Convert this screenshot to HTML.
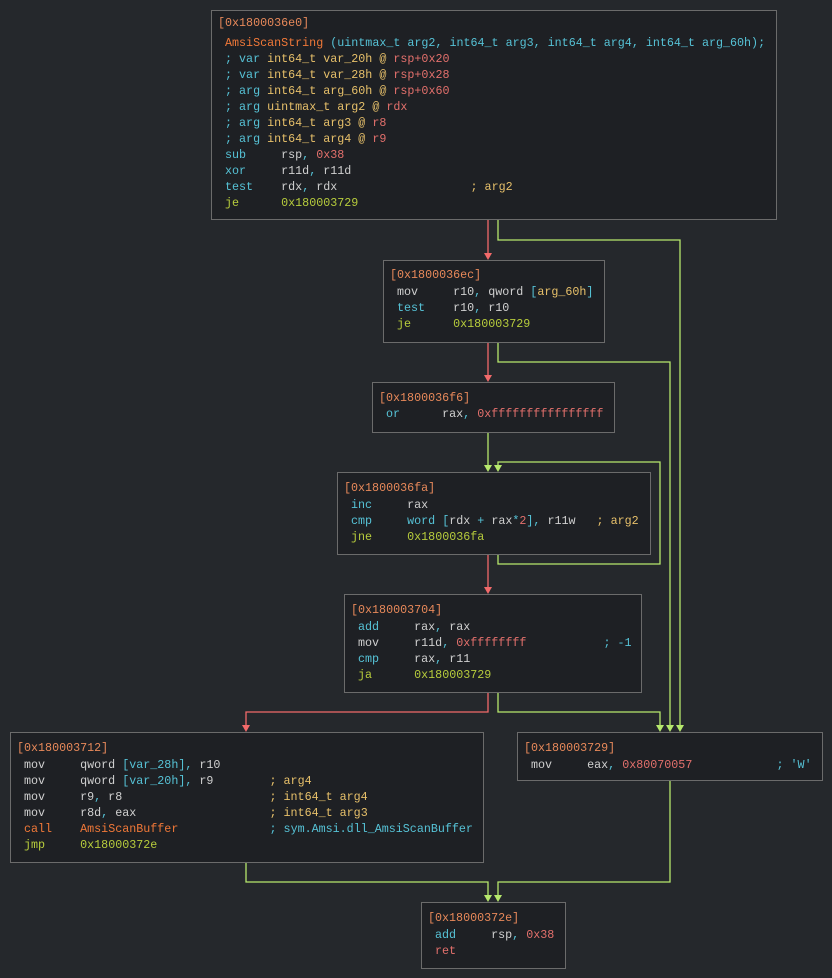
<!DOCTYPE html>
<html><head><meta charset="utf-8"><style>
html,body{margin:0;padding:0;background:#25282c;width:832px;height:978px;overflow:hidden}
.b{position:absolute;background:#1e2024;border:1px solid #6b6b6b;box-sizing:border-box}
.l{position:absolute;left:6px;white-space:pre;font-family:"Liberation Mono",monospace;font-size:11.7px;line-height:16px;color:#d0d0d0}
.h{color:#e8895a}.c{color:#56c2d6}.n{color:#e3706c}.j{color:#b7cc3c}.y{color:#e7c06a}.o{color:#f07838}.w{color:#d0d0d0}
svg{position:absolute;left:0;top:0}
</style></head><body>
<svg width="832" height="978">
<g fill="none" stroke-width="1.3">
<path d="M488,219V255" stroke="#f26a6a"/>
<path d="M498,219V240H680V727" stroke="#b6e86c"/>
<path d="M488,342V377" stroke="#f26a6a"/>
<path d="M498,342V362H670V727" stroke="#b6e86c"/>
<path d="M488,432V467" stroke="#b6e86c"/>
<path d="M498,554V564H660V462H498V467" stroke="#b6e86c"/>
<path d="M488,554V589" stroke="#f26a6a"/>
<path d="M488,692V712H246V727" stroke="#f26a6a"/>
<path d="M498,692V712H660V727" stroke="#b6e86c"/>
<path d="M246,862V882H488V897" stroke="#b6e86c"/>
<path d="M670,780V882H498V897" stroke="#b6e86c"/>
</g>
<g fill="#f26a6a">
<path d="M484,253H492L488,260z"/><path d="M484,375H492L488,382z"/><path d="M484,587H492L488,594z"/><path d="M242,725H250L246,732z"/>
</g>
<g fill="#b6e86c">
<path d="M484,465H492L488,472z"/><path d="M494,465H502L498,472z"/>
<path d="M656,725H664L660,732z"/><path d="M666,725H674L670,732z"/><path d="M676,725H684L680,732z"/>
<path d="M484,895H492L488,902z"/><path d="M494,895H502L498,902z"/>
</g>
</svg>

<div class="b" style="left:211px;top:10px;width:566px;height:210px">
<div class="l" style="top:4px"><span class="h">[0x1800036e0]</span></div>
<div class="l" style="top:24px"> <span class="o">AmsiScanString</span> <span class="c">(uintmax_t arg2, int64_t arg3, int64_t arg4, int64_t arg_60h);</span></div>
<div class="l" style="top:40px"> <span class="c">; var</span> <span class="y">int64_t var_20h</span> <span class="y">@</span> <span class="n">rsp+0x20</span></div>
<div class="l" style="top:56px"> <span class="c">; var</span> <span class="y">int64_t var_28h</span> <span class="y">@</span> <span class="n">rsp+0x28</span></div>
<div class="l" style="top:72px"> <span class="c">; arg</span> <span class="y">int64_t arg_60h</span> <span class="y">@</span> <span class="n">rsp+0x60</span></div>
<div class="l" style="top:88px"> <span class="c">; arg</span> <span class="y">uintmax_t arg2</span> <span class="y">@</span> <span class="n">rdx</span></div>
<div class="l" style="top:104px"> <span class="c">; arg</span> <span class="y">int64_t arg3</span> <span class="y">@</span> <span class="n">r8</span></div>
<div class="l" style="top:120px"> <span class="c">; arg</span> <span class="y">int64_t arg4</span> <span class="y">@</span> <span class="n">r9</span></div>
<div class="l" style="top:136px"> <span class="c">sub</span>     rsp<span class="c">,</span> <span class="n">0x38</span></div>
<div class="l" style="top:152px"> <span class="c">xor</span>     r11d<span class="c">,</span> r11d</div>
<div class="l" style="top:168px"> <span class="c">test</span>    rdx<span class="c">,</span> rdx                   <span class="y">; arg2</span></div>
<div class="l" style="top:184px"> <span class="j">je</span>      <span class="j">0x180003729</span></div>
</div>

<div class="b" style="left:383px;top:260px;width:222px;height:83px">
<div class="l" style="top:6px"><span class="h">[0x1800036ec]</span></div>
<div class="l" style="top:23px"> mov     r10<span class="c">,</span> qword <span class="c">[</span><span class="y">arg_60h</span><span class="c">]</span></div>
<div class="l" style="top:39px"> <span class="c">test</span>    r10<span class="c">,</span> r10</div>
<div class="l" style="top:55px"> <span class="j">je</span>      <span class="j">0x180003729</span></div>
</div>

<div class="b" style="left:372px;top:382px;width:243px;height:51px">
<div class="l" style="top:7px"><span class="h">[0x1800036f6]</span></div>
<div class="l" style="top:23px"> <span class="c">or</span>      rax<span class="c">,</span> <span class="n">0xffffffffffffffff</span></div>
</div>

<div class="b" style="left:337px;top:472px;width:314px;height:83px">
<div class="l" style="top:7px"><span class="h">[0x1800036fa]</span></div>
<div class="l" style="top:24px"> <span class="c">inc</span>     rax</div>
<div class="l" style="top:40px"> <span class="c">cmp</span>     <span class="c">word [</span>rdx <span class="c">+</span> rax<span class="c">*</span><span class="n">2</span><span class="c">],</span> r11w   <span class="y">; arg2</span></div>
<div class="l" style="top:56px"> <span class="j">jne</span>     <span class="j">0x1800036fa</span></div>
</div>

<div class="b" style="left:344px;top:594px;width:298px;height:99px">
<div class="l" style="top:7px"><span class="h">[0x180003704]</span></div>
<div class="l" style="top:24px"> <span class="c">add</span>     rax<span class="c">,</span> rax</div>
<div class="l" style="top:40px"> mov     r11d<span class="c">,</span> <span class="n">0xffffffff</span>           <span class="c">; -1</span></div>
<div class="l" style="top:56px"> <span class="c">cmp</span>     rax<span class="c">,</span> r11</div>
<div class="l" style="top:72px"> <span class="j">ja</span>      <span class="j">0x180003729</span></div>
</div>

<div class="b" style="left:10px;top:732px;width:474px;height:131px">
<div class="l" style="top:7px"><span class="h">[0x180003712]</span></div>
<div class="l" style="top:24px"> mov     qword <span class="c">[var_28h],</span> r10</div>
<div class="l" style="top:40px"> mov     qword <span class="c">[var_20h],</span> r9        <span class="y">; arg4</span></div>
<div class="l" style="top:56px"> mov     r9<span class="c">,</span> r8                     <span class="y">; int64_t arg4</span></div>
<div class="l" style="top:72px"> mov     r8d<span class="c">,</span> eax                   <span class="y">; int64_t arg3</span></div>
<div class="l" style="top:88px"> <span class="o">call</span>    <span class="o">AmsiScanBuffer</span>             <span class="c">; sym.Amsi.dll_AmsiScanBuffer</span></div>
<div class="l" style="top:104px"> <span class="j">jmp</span>     <span class="j">0x18000372e</span></div>
</div>

<div class="b" style="left:517px;top:732px;width:306px;height:49px">
<div class="l" style="top:7px"><span class="h">[0x180003729]</span></div>
<div class="l" style="top:24px"> mov     eax<span class="c">,</span> <span class="n">0x80070057</span>            <span class="c">; 'W'</span></div>
</div>

<div class="b" style="left:421px;top:902px;width:145px;height:67px">
<div class="l" style="top:7px"><span class="h">[0x18000372e]</span></div>
<div class="l" style="top:24px"> <span class="c">add</span>     rsp<span class="c">,</span> <span class="n">0x38</span></div>
<div class="l" style="top:40px"> <span class="n">ret</span></div>
</div>
</body></html>
